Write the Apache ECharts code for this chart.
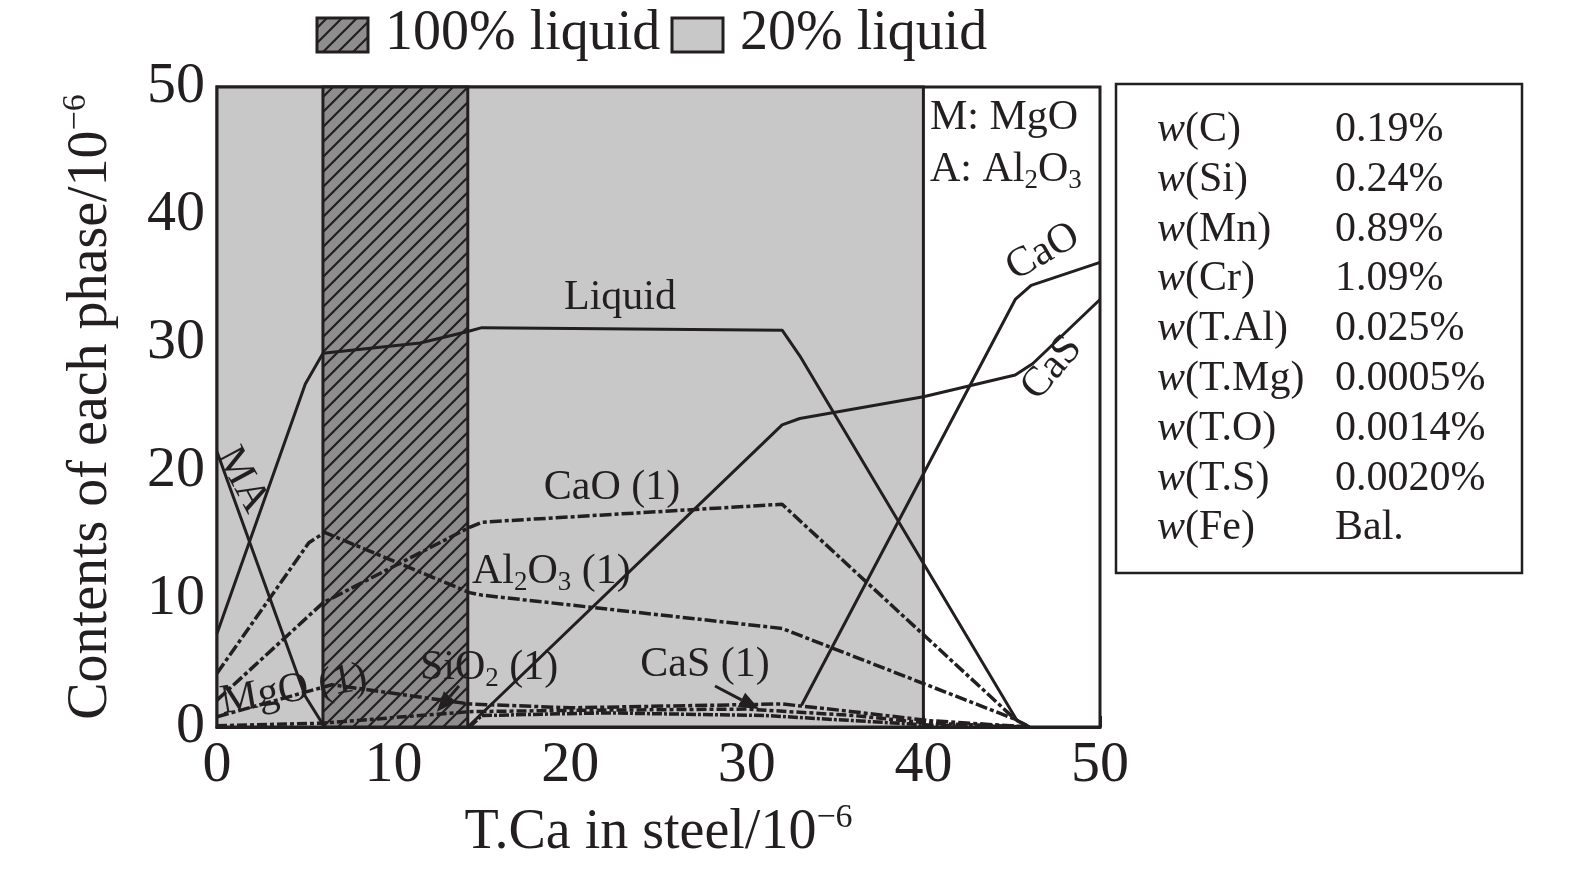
<!DOCTYPE html>
<html><head><meta charset="utf-8">
<script src="https://cdn.jsdelivr.net/npm/echarts@6/dist/echarts.min.js"></script>
<style>html,body{margin:0;padding:0;background:#fff}#c{width:1575px;height:872px}</style>
</head><body><div id="c"></div>
<script>
// ---- data ----
const xTickValues = [0, 10, 20, 30, 40, 50];
const yTickValues = [0, 10, 20, 30, 40, 50];
const region20 = [0, 40];      // 20% liquid
const region100 = [6, 14.2];   // 100% liquid
const liquid = [[0,7.3],[5,26.8],[6,29.2],[11.5,30.0],[14.2,30.9],[15,31.2],[32,31.0],[33,29.0],[45.3,0.5],[46,0]];
const MA = [[0,21.5],[5,2.4],[6,0.2]];
const CaS = [[14.2,0],[32,23.6],[33,24.1],[40,25.8],[45.2,27.5],[46.2,28.4],[50,33.4]];
const CaO = [[33.1,1.7],[45.2,33.4],[46.1,34.5],[50,36.3]];
const CaO1 = [[0,2.1],[6,9.7],[14.3,15.6],[15,16.0],[32,17.4],[45.2,0.6],[46,0]];
const Al2O31 = [[0,4.2],[5.2,14.4],[6.1,15.2],[14.3,10.5],[15,10.3],[32,7.7],[45.2,0.6],[46,0]];
const MgO1 = [[0,0.8],[6.5,3.3],[14.3,1.8],[20,1.5],[32,1.8],[36,1.2],[40.3,0.5],[46,0]];
const SiO21 = [[0,0.1],[6,0.3],[14.3,1.2],[20,1.3],[30,1.4],[36,0.9],[40.3,0.3],[46,0]];
const CaS1 = [[14.3,0],[15,0.9],[22,1.1],[31,0.9],[36,0.5],[40.3,0.15],[46,0]];
const arrowSiO2 = [[13.7,3.2],[12.45,1.2]];
const arrowCaS = [[28.2,3.2],[30.7,1.4]];
const infoKeys = ['C','Si','Mn','Cr','T.Al','T.Mg','T.O','T.S','Fe'];
const infoVals = ['0.19%','0.24%','0.89%','1.09%','0.025%','0.0005%','0.0014%','0.0020%','Bal.'];

// ---- styles ----
const INK = '#231f20';
const FF = "'Liberation Serif','Times New Roman',serif";
function hatch(){
  const s = 15, c = document.createElement('canvas'); c.width = s; c.height = s;
  const g = c.getContext('2d');
  g.fillStyle = '#8e8e8e'; g.fillRect(0,0,s,s);
  g.strokeStyle = INK; g.lineWidth = 2.2; g.lineCap = 'square';
  g.beginPath();
  g.moveTo(0,s); g.lineTo(s,0);
  g.moveTo(-2,2); g.lineTo(2,-2);
  g.moveTo(s-2,s+2); g.lineTo(s+2,s-2);
  g.stroke();
  return {image: c, repeat: 'repeat'};
}
const hatchPat = hatch();

const subRich = {
  n: {fontFamily: FF, fontSize: 42, lineHeight: 48, color: INK},
  s: {fontFamily: FF, fontSize: 27, lineHeight: 22, verticalAlign: 'bottom', color: INK},
  i: {fontFamily: FF, fontSize: 42, lineHeight: 48, fontStyle: 'italic', color: INK}
};
function txt(x, y, text, opts){
  opts = opts || {};
  return {type: 'text', x: x, y: y, rotation: opts.rot || 0, z: 50,
    style: {text: text, rich: subRich, fontFamily: FF, fontSize: opts.size || 42, fill: INK,
      align: opts.align || 'center', verticalAlign: 'middle'}};
}

function lineSeries(name, data, dash, width){
  return {name: name, type: 'line', data: data, showSymbol: false, symbol: 'none', z: 5,
    lineStyle: {color: INK, width: width || 3, type: dash || 'solid'}, silent: true};
}

const dashDot = [12, 3, 4, 3];
const series = [
  {type: 'line', data: [], z: 1, silent: true,
    markArea: {silent: true, data: [
      [{xAxis: region20[0], itemStyle: {color: '#c8c8c8', borderColor: INK, borderWidth: 3}}, {xAxis: region20[1]}],
      [{xAxis: region100[0], itemStyle: {color: hatchPat, borderColor: INK, borderWidth: 3}}, {xAxis: region100[1]}]
    ]}},
  lineSeries('Liquid', liquid),
  lineSeries('MA', MA),
  lineSeries('CaS', CaS),
  lineSeries('CaO', CaO),
  lineSeries('CaO (1)', CaO1, dashDot, 3.5),
  lineSeries('Al2O3 (1)', Al2O31, dashDot, 3.5),
  lineSeries('MgO (1)', MgO1, dashDot, 3.5),
  lineSeries('SiO2 (1)', SiO21, [10, 3, 4, 3], 3.5),
  lineSeries('CaS (1)', CaS1, [10, 2, 3, 2], 3.5)
];

const graphic = [
  // legend
  {type: 'rect', shape: {x: 317, y: 18, width: 51, height: 34}, style: {fill: hatchPat, stroke: INK, lineWidth: 3}},
  {type: 'text', x: 385, y: 34, style: {text: '100% liquid', fontFamily: FF, fontSize: 56, fill: INK, verticalAlign: 'middle'}},
  {type: 'rect', shape: {x: 672, y: 18, width: 51, height: 34}, style: {fill: '#c8c8c8', stroke: INK, lineWidth: 3}},
  {type: 'text', x: 740, y: 34, style: {text: '20% liquid', fontFamily: FF, fontSize: 56, fill: INK, verticalAlign: 'middle'}},
  // info box
  {type: 'rect', shape: {x: 1116, y: 84, width: 406, height: 489}, style: {fill: '#fff', stroke: INK, lineWidth: 2.5}},
  // annotations
  txt(620, 298, 'Liquid'),
  txt(612, 488, 'CaO (1)'),
  txt(472, 572, '{n|Al}{s|2}{n|O}{s|3}{n| (1)}', {align: 'left'}),
  txt(294, 690, 'MgO (1)', {rot: 0.17}),
  txt(420, 668, '{n|SiO}{s|2}{n| (1)}', {align: 'left'}),
  txt(705, 665, 'CaS (1)'),
  txt(242, 480, 'MA', {rot: -1.08}),
  txt(1043, 252, 'CaO', {rot: 0.52}),
  txt(1052, 368, 'CaS', {rot: 0.87}),
  txt(930, 118, 'M: MgO', {align: 'left'}),
  txt(930, 170, '{n|A: Al}{s|2}{n|O}{s|3}', {align: 'left'})
];
infoKeys.forEach(function(k, i){
  const y = 130 + i * 49.8;
  graphic.push(txt(1157, y, '{i|w}{n|(' + k + ')}', {align: 'left'}));
  graphic.push(txt(1335, y, infoVals[i], {align: 'left'}));
});

const axisNameRich = {a: {fontFamily: FF, fontSize: 56, lineHeight: 64, color: INK},
                      b: {fontFamily: FF, fontSize: 34, lineHeight: 28, verticalAlign: 'top', color: INK}};
const chart = echarts.init(document.getElementById('c'));
chart.setOption({
  animation: false,
  backgroundColor: '#fff',
  grid: {left: 217, right: 475, top: 87, bottom: 145, show: true, borderColor: INK, borderWidth: 3, backgroundColor: 'transparent'},
  xAxis: {type: 'value', min: 0, max: 50, interval: 10,
    name: '{a|T.Ca in steel/10}{b|−6}', nameLocation: 'middle', nameGap: 74,
    nameTextStyle: {rich: axisNameRich},
    axisLine: {show: true, lineStyle: {color: INK, width: 3}},
    axisTick: {show: true, inside: true, length: 11, lineStyle: {color: INK, width: 3}},
    splitLine: {show: false},
    axisLabel: {fontFamily: FF, fontSize: 58, color: INK, margin: 10,
      formatter: function(v){ return xTickValues.indexOf(v) >= 0 ? String(v) : ''; }}},
  yAxis: {type: 'value', min: 0, max: 50, interval: 10,
    name: '{a|Contents of each phase/10}{b|−6}', nameLocation: 'middle', nameGap: 94, nameRotate: 90,
    nameTextStyle: {rich: axisNameRich},
    axisLine: {show: true, lineStyle: {color: INK, width: 3}},
    axisTick: {show: true, inside: true, length: 12, lineStyle: {color: INK, width: 3}},
    splitLine: {show: false},
    axisLabel: {fontFamily: FF, fontSize: 58, color: INK, margin: 12,
      formatter: function(v){ return yTickValues.indexOf(v) >= 0 ? String(v) : ''; }}},
  series: series,
  graphic: graphic
});

// arrows (annotation pointers), placed in data coordinates
function arrowGraphic(pair){
  const p0 = chart.convertToPixel({gridIndex: 0}, pair[0]);
  const p1 = chart.convertToPixel({gridIndex: 0}, pair[1]);
  const ang = Math.atan2(p1[1] - p0[1], p1[0] - p0[0]);
  const L = 20, W = 8;
  const bx = p1[0] - L * Math.cos(ang), by = p1[1] - L * Math.sin(ang);
  const nx = -Math.sin(ang) * W, ny = Math.cos(ang) * W;
  return [
    {type: 'line', z: 60, shape: {x1: p0[0], y1: p0[1], x2: bx, y2: by}, style: {stroke: INK, lineWidth: 3}},
    {type: 'polygon', z: 60, shape: {points: [[p1[0], p1[1]], [bx + nx, by + ny], [bx - nx, by - ny]]}, style: {fill: INK}}
  ];
}
chart.setOption({graphic: graphic.concat(arrowGraphic(arrowSiO2), arrowGraphic(arrowCaS))});
</script></body></html>
